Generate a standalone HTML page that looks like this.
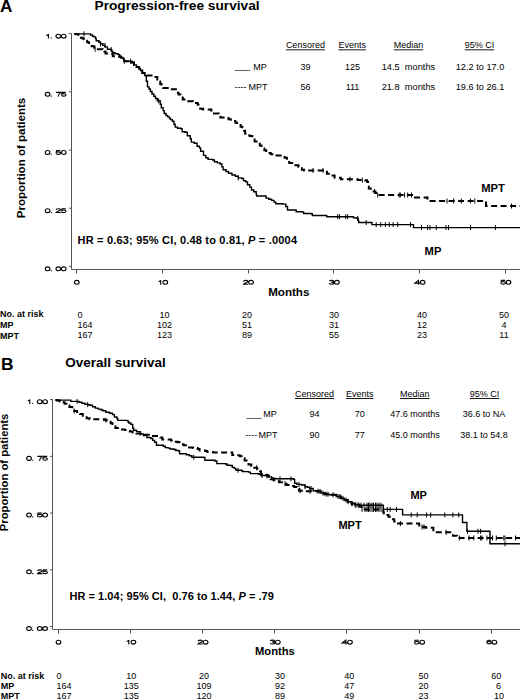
<!DOCTYPE html>
<html><head><meta charset="utf-8"><title>KM curves</title>
<style>html,body{margin:0;padding:0;background:#fff;width:520px;height:699px;overflow:hidden}
text{font-family:"Liberation Sans", sans-serif}</style></head>
<body>
<svg width="520" height="699" viewBox="0 0 520 699" style="display:block">
<rect width="520" height="699" fill="#fff"/>
<g font-family='"Liberation Sans", sans-serif' fill="#000">
<text x="0" y="12.3" font-size="17.2" font-weight="bold" text-anchor="start"  style="">A</text>
<text x="94.5" y="9.9" font-size="13.7" font-weight="bold" text-anchor="start"  style="">Progression-free survival</text>
<path d="M71.5 33.5 V269.5 H520" stroke="#555" stroke-width="1" fill="none"/>
<path d="M68.8 33.70 H71.5 M68.8 91.88 H71.5 M68.8 150.05 H71.5 M68.8 208.22 H71.5 M68.8 266.40 H71.5 " stroke="#555" stroke-width="1" fill="none"/>
<path d="M76.5 269.5 V273.5 M162.5 269.5 V273.5 M248.5 269.5 V273.5 M333.5 269.5 V273.5 M419.5 269.5 V273.5 M505.5 269.5 V273.5 " stroke="#555" stroke-width="1" fill="none"/>
<text x="268.2" y="295.8" font-size="11.6" font-weight="bold" text-anchor="start"  style="">Months</text>
<text transform="translate(25.2,218.3) rotate(-90)" font-size="11.55" font-weight="bold">Proportion of patients</text>
<text x="305.4" y="48.4" font-size="9" font-weight="normal" text-anchor="middle" text-decoration="underline" style="text-decoration:underline">Censored</text>
<text x="352.2" y="48.4" font-size="9" font-weight="normal" text-anchor="middle" text-decoration="underline" style="text-decoration:underline">Events</text>
<text x="408.5" y="48.4" font-size="9" font-weight="normal" text-anchor="middle" text-decoration="underline" style="text-decoration:underline">Median</text>
<text x="479.5" y="48.4" font-size="9" font-weight="normal" text-anchor="middle" text-decoration="underline" style="text-decoration:underline">95% CI</text>
<text x="235" y="68.9" font-size="9" font-weight="normal" text-anchor="start"  style="">___</text>
<text x="253.2" y="69.6" font-size="9" font-weight="normal" text-anchor="start"  style="">MP</text>
<text x="234.5" y="90.4" font-size="9" font-weight="normal" text-anchor="start"  style="">----</text>
<text x="248.6" y="90.4" font-size="9" font-weight="normal" text-anchor="start"  style="">MPT</text>
<text x="305.4" y="69.6" font-size="9" font-weight="normal" text-anchor="middle"  style="">39</text>
<text x="305.4" y="90.4" font-size="9" font-weight="normal" text-anchor="middle"  style="">56</text>
<text x="352.5" y="69.6" font-size="9" font-weight="normal" text-anchor="middle"  style="">125</text>
<text x="352.5" y="90.4" font-size="9" font-weight="normal" text-anchor="middle"  style="">111</text>
<text x="381.7" y="69.6" font-size="9.25" font-weight="normal" text-anchor="start"  style="">14.5&#160;&#160;months</text>
<text x="381.7" y="90.4" font-size="9.25" font-weight="normal" text-anchor="start"  style="">21.8&#160;&#160;months</text>
<text x="480" y="69.6" font-size="9.2" font-weight="normal" text-anchor="middle"  style="">12.2 to 17.0</text>
<text x="480" y="90.4" font-size="9.2" font-weight="normal" text-anchor="middle"  style="">19.6 to 26.1</text>
<text x="77.5" y="243.9" font-size="11" font-weight="bold" text-anchor="start" textLength="219.5" lengthAdjust="spacing" style="">HR = 0.63; 95% CI, 0.48 to 0.81, <tspan font-style="italic">P</tspan> = .0004</text>
<text x="481.2" y="192.2" font-size="11.2" font-weight="bold" text-anchor="start"  style="">MPT</text>
<text x="424.6" y="255" font-size="11.2" font-weight="bold" text-anchor="start"  style="">MP</text>
<text x="0" y="317.3" font-size="9" font-weight="bold" text-anchor="start"  style="">No. at risk</text>
<text x="0" y="327.9" font-size="9" font-weight="bold" text-anchor="start"  style="">MP</text>
<text x="0" y="338.5" font-size="9" font-weight="bold" text-anchor="start"  style="">MPT</text>
<text x="77.5" y="317.5" font-size="9" font-weight="normal" text-anchor="start"  style="">0</text>
<text x="164.5" y="317.5" font-size="9" font-weight="normal" text-anchor="middle"  style="">10</text>
<text x="247" y="317.5" font-size="9" font-weight="normal" text-anchor="middle"  style="">20</text>
<text x="334" y="317.5" font-size="9" font-weight="normal" text-anchor="middle"  style="">30</text>
<text x="422" y="317.5" font-size="9" font-weight="normal" text-anchor="middle"  style="">40</text>
<text x="504" y="317.5" font-size="9" font-weight="normal" text-anchor="middle"  style="">50</text>
<text x="77.5" y="327.9" font-size="9" font-weight="normal" text-anchor="start"  style="">164</text>
<text x="164.5" y="327.9" font-size="9" font-weight="normal" text-anchor="middle"  style="">102</text>
<text x="247" y="327.9" font-size="9" font-weight="normal" text-anchor="middle"  style="">51</text>
<text x="334" y="327.9" font-size="9" font-weight="normal" text-anchor="middle"  style="">31</text>
<text x="422" y="327.9" font-size="9" font-weight="normal" text-anchor="middle"  style="">12</text>
<text x="504" y="327.9" font-size="9" font-weight="normal" text-anchor="middle"  style="">4</text>
<text x="77.5" y="338.3" font-size="9" font-weight="normal" text-anchor="start"  style="">167</text>
<text x="164.5" y="338.3" font-size="9" font-weight="normal" text-anchor="middle"  style="">123</text>
<text x="247" y="338.3" font-size="9" font-weight="normal" text-anchor="middle"  style="">89</text>
<text x="334" y="338.3" font-size="9" font-weight="normal" text-anchor="middle"  style="">55</text>
<text x="422" y="338.3" font-size="9" font-weight="normal" text-anchor="middle"  style="">23</text>
<text x="504" y="338.3" font-size="9" font-weight="normal" text-anchor="middle"  style="">11</text>
<path d="M74.2 33.9 L89.4 33.9 L90.5 33.9 L90.5 35.0 L92.5 35.0 L92.5 36.2 L94.0 36.2 L94.0 36.9 L95.5 36.9 L95.5 38.5 L96.2 38.5 L96.2 40.8 L98.9 40.8 L98.9 42.3 L100.5 42.3 L100.5 43.8 L102.8 43.8 L102.8 45.4 L105.1 45.4 L105.1 46.9 L107.4 46.9 L107.4 49.2 L110.5 49.2 L110.5 49.6 L111.6 49.6 L111.6 51.2 L112.8 51.2 L112.8 52.7 L115.1 52.7 L115.1 53.8 L118.2 53.8 L118.2 54.6 L119.7 54.6 L119.7 56.2 L121.2 56.2 L121.2 57.7 L123.5 57.7 L123.5 59.2 L124.3 59.2 L124.3 61.2 L131.0 61.2 L132.0 61.2 L132.0 62.5 L134.0 62.5 L134.0 64.9 L136.5 64.9 L136.5 67.0 L139.2 67.0 L139.2 68.8 L140.5 68.8 L140.5 70.5 L142.3 70.5 L142.3 73.1 L144.6 73.1 L144.6 75.5 L146.3 75.5 L146.3 81.2 L147.5 81.2 L147.5 86.9 L149.0 86.9 L149.0 89.0 L150.4 89.0 L150.4 91.5 L152.0 91.5 L152.0 94.0 L153.8 94.0 L153.8 96.2 L155.5 96.2 L155.5 98.5 L157.3 98.5 L157.3 100.8 L160.2 100.8 L160.2 104.2 L161.3 104.2 L161.3 107.7 L163.1 107.7 L163.1 110.6 L164.2 110.6 L164.2 113.5 L166.0 113.5 L166.0 115.5 L167.7 115.5 L167.7 116.9 L169.5 116.9 L169.5 118.5 L170.5 118.5 L170.5 119.6 L172.3 119.6 L172.3 121.3 L174.0 121.3 L174.0 124.2 L175.2 124.2 L175.2 127.1 L177.5 127.1 L177.5 128.3 L181.0 128.3 L181.0 128.8 L182.1 128.8 L182.1 131.7 L185.0 131.7 L185.0 132.3 L187.3 132.3 L187.3 135.8 L190.2 135.8 L190.2 138.7 L191.3 138.7 L191.3 142.1 L194.2 142.1 L194.2 143.3 L197.1 143.3 L197.1 146.2 L199.4 146.2 L199.4 147.9 L200.6 147.9 L200.6 151.3 L203.5 151.3 L203.5 155.4 L205.8 155.4 L205.8 157.7 L208.1 157.7 L208.1 159.4 L212.7 159.4 L212.7 160.0 L214.4 160.0 L214.4 161.7 L217.3 161.7 L217.3 162.9 L220.2 162.9 L220.2 164.0 L221.9 164.0 L221.9 166.9 L223.1 166.9 L223.1 169.8 L226.0 169.8 L226.0 171.5 L228.5 171.5 L228.5 173.3 L231.9 173.3 L231.9 175.0 L235.4 175.0 L235.4 176.2 L238.3 176.2 L238.3 177.9 L241.7 177.9 L241.7 178.5 L243.5 178.5 L243.5 180.8 L245.8 180.8 L245.8 181.9 L247.5 181.9 L247.5 184.8 L249.8 184.8 L249.8 187.1 L251.5 187.1 L251.5 190.0 L253.8 190.0 L253.8 191.7 L256.2 191.7 L256.2 194.6 L256.7 194.6 L256.7 196.0 L264.8 196.0 L266.0 196.0 L266.0 198.1 L268.8 198.1 L268.8 199.2 L271.7 199.2 L271.7 200.4 L274.0 200.4 L274.0 202.1 L275.8 202.1 L275.8 203.8 L282.7 203.8 L282.7 204.1 L285.8 204.1 L285.8 206.5 L287.5 206.5 L287.5 210.0 L295.6 210.0 L296.2 210.0 L296.2 211.7 L302.5 211.7 L302.5 212.1 L303.7 212.1 L303.7 213.5 L311.2 213.5 L311.2 213.7 L312.3 213.7 L312.3 215.5 L325.6 215.5 L326.7 215.5 L326.7 216.7 L352.3 216.7 L353.5 216.7 L353.5 217.9 L356.3 217.9 L356.3 218.3 L358.1 218.3 L358.1 220.6 L358.7 220.6 L358.7 222.5 L371.5 222.5 L371.9 222.5 L371.9 224.6 L413.1 224.6 L413.5 224.6 L413.5 227.6 L520.0 227.6" stroke="#000" stroke-width="1.4" fill="none"/>
<path d="M74.2 33.9 L76.3 33.9 L76.3 34.3 L78.6 34.3 L78.6 35.0 L80.2 35.0 L80.2 35.8 L80.9 35.8 L80.9 37.7 L82.5 37.7 L82.5 38.5 L84.0 38.5 L84.0 39.2 L85.5 39.2 L85.5 40.8 L87.1 40.8 L87.1 41.9 L88.6 41.9 L88.6 43.1 L90.2 43.1 L90.2 43.8 L91.7 43.8 L91.7 46.2 L92.0 46.2 L94.3 46.2 L94.3 47.7 L95.1 47.7 L95.1 49.2 L98.9 49.2 L102.8 49.2 L102.8 50.0 L104.3 50.0 L104.3 51.5 L105.5 51.5 L105.5 53.5 L112.0 53.5 L112.0 53.8 L112.8 53.8 L112.8 56.2 L117.4 56.2 L117.4 56.5 L119.7 56.5 L119.7 57.0 L121.2 57.0 L121.2 57.7 L123.5 57.7 L123.5 59.2 L124.3 59.2 L124.3 61.2 L131.0 61.2 L132.0 61.2 L132.0 62.5 L134.0 62.5 L134.0 64.9 L136.5 64.9 L136.5 67.0 L139.2 67.0 L139.2 68.8 L140.5 68.8 L140.5 70.5 L142.3 70.5 L142.3 73.1 L144.6 73.1 L144.6 75.4 L148.1 75.4 L151.5 75.4 L151.5 77.1 L157.3 77.1 L157.3 79.4 L158.5 79.4 L158.5 81.5 L160.2 81.5 L160.2 84.0 L161.5 84.0 L161.5 86.0 L163.1 86.0 L163.1 88.1 L167.7 88.1 L167.7 89.2 L175.0 89.2 L176.9 89.2 L176.9 92.7 L178.5 92.7 L178.5 94.5 L180.4 94.5 L180.4 96.2 L182.7 96.2 L182.7 99.6 L187.3 99.6 L187.3 101.3 L193.1 101.3 L193.1 103.1 L197.7 103.1 L197.7 104.8 L198.5 104.8 L198.5 106.0 L200.2 106.0 L200.2 108.8 L203.1 108.8 L203.1 109.4 L207.7 109.4 L211.2 109.4 L211.2 110.6 L214.0 110.6 L214.0 113.5 L218.7 113.5 L218.7 114.0 L220.4 114.0 L220.4 117.5 L225.0 117.5 L225.0 118.1 L228.5 118.1 L228.5 119.2 L230.8 119.2 L230.8 121.0 L235.4 121.0 L235.4 122.7 L237.1 122.7 L237.1 125.0 L240.6 125.0 L240.6 126.7 L242.3 126.7 L242.3 129.0 L244.0 129.0 L244.0 130.8 L245.2 130.8 L245.2 133.7 L248.1 133.7 L248.1 135.4 L250.0 135.4 L250.0 136.0 L252.3 136.0 L252.3 138.1 L254.6 138.1 L254.6 141.5 L258.7 141.5 L258.7 143.8 L259.8 143.8 L259.8 145.6 L261.5 145.6 L261.5 148.5 L264.4 148.5 L264.4 150.2 L266.2 150.2 L266.2 153.1 L270.8 153.1 L270.8 154.2 L276.5 154.2 L276.5 155.4 L281.7 155.4 L284.6 155.4 L284.6 157.7 L286.9 157.7 L286.9 160.0 L289.2 160.0 L289.2 162.9 L293.8 162.9 L293.8 165.2 L298.5 165.2 L298.5 166.9 L301.9 166.9 L301.9 169.8 L304.2 169.8 L304.2 170.4 L323.8 170.4 L326.9 170.4 L326.9 173.8 L330.0 173.8 L330.0 175.5 L334.6 175.5 L334.6 177.7 L340.8 177.7 L340.8 179.2 L357.7 179.2 L357.7 180.0 L365.0 180.0 L365.0 180.2 L367.0 180.2 L367.0 181.8 L368.0 181.8 L368.0 185.0 L368.8 185.0 L368.8 188.5 L370.8 188.5 L370.8 191.5 L375.4 191.5 L375.4 193.0 L376.0 193.0 L376.0 195.0 L413.8 195.0 L415.0 195.0 L415.0 197.5 L426.8 197.5 L427.5 197.5 L427.5 201.0 L485.0 201.0 L486.0 201.0 L486.0 206.0 L520.0 206.0" stroke="#000" stroke-width="2" fill="none" stroke-dasharray="6 3.5"/>
<path d="M84.0 31.4 V36.4 M100.5 41.3 V46.3 M105.0 42.9 V47.9 M111.2 47.1 V52.1 M124.3 58.7 V63.7 M158.6 98.3 V103.3 M238.3 175.4 V180.4 M337.7 214.2 V219.2 M339.5 214.2 V219.2 M345.7 214.2 V219.2 M347.7 214.2 V219.2 M357.7 215.8 V220.8 M366.2 220.0 V225.0 M376.2 222.1 V227.1 M380.8 222.1 V227.1 M385.4 222.1 V227.1 M389.2 222.1 V227.1 M393.1 222.1 V227.1 M397.7 222.1 V227.1 M410.5 222.1 V227.1 M421.5 225.1 V230.1 M427.7 225.1 V230.1 M430.0 225.1 V230.1 M436.3 225.1 V230.1 M446.0 225.1 V230.1 M448.5 225.1 V230.1 M470.6 225.1 V230.1 M495.4 225.1 V230.1 M95.1 46.7 V51.7 M130.5 58.7 V63.7 M313.0 167.9 V172.9 M323.0 167.9 V172.9 M350.0 176.7 V181.7 M362.3 177.5 V182.5 M374.6 189.0 V194.0 M377.7 192.5 V197.5 M399.2 192.5 V197.5 M400.3 192.5 V197.5 M404.6 192.5 V197.5 M407.7 192.5 V197.5 M411.5 192.5 V197.5 M447.0 198.5 V203.5 M453.7 198.5 V203.5 M461.3 198.5 V203.5 M470.4 198.5 V203.5 M474.8 198.5 V203.5 M511.5 203.5 V208.5 " stroke="#000" stroke-width="1" fill="none"/>
<text x="0.9" y="369.6" font-size="17.4" font-weight="bold" text-anchor="start"  style="">B</text>
<text x="65.2" y="366.5" font-size="13.5" font-weight="bold" text-anchor="start"  style="">Overall survival</text>
<path d="M52.5 399 V629.5 H520" stroke="#555" stroke-width="1" fill="none"/>
<path d="M50 399.60 H52.5 M50 456.33 H52.5 M50 513.05 H52.5 M50 569.77 H52.5 M50 626.50 H52.5 " stroke="#555" stroke-width="1" fill="none"/>
<path d="M58.5 629.5 V633.5 M130.5 629.5 V633.5 M202.5 629.5 V633.5 M274.5 629.5 V633.5 M346.5 629.5 V633.5 M419.5 629.5 V633.5 M491.5 629.5 V633.5 " stroke="#555" stroke-width="1" fill="none"/>
<text x="255.0" y="654.9" font-size="11.2" font-weight="bold" text-anchor="start"  style="">Months</text>
<text transform="translate(8.4,531.2) rotate(-90)" font-size="11.25" font-weight="bold">Proportion of patients</text>
<text x="314.5" y="397.1" font-size="9" font-weight="normal" text-anchor="middle"  style="text-decoration:underline">Censored</text>
<text x="359.8" y="397.1" font-size="9" font-weight="normal" text-anchor="middle"  style="text-decoration:underline">Events</text>
<text x="414.8" y="397.1" font-size="9" font-weight="normal" text-anchor="middle"  style="text-decoration:underline">Median</text>
<text x="484.5" y="397.1" font-size="9" font-weight="normal" text-anchor="middle"  style="text-decoration:underline">95% CI</text>
<text x="246.5" y="416.8" font-size="9" font-weight="normal" text-anchor="start"  style="">___</text>
<text x="263.2" y="416.8" font-size="9" font-weight="normal" text-anchor="start"  style="">MP</text>
<text x="245.3" y="437.5" font-size="9" font-weight="normal" text-anchor="start"  style="">----</text>
<text x="258.4" y="437.5" font-size="9" font-weight="normal" text-anchor="start"  style="">MPT</text>
<text x="314.5" y="416.8" font-size="9" font-weight="normal" text-anchor="middle"  style="">94</text>
<text x="314.5" y="437.5" font-size="9" font-weight="normal" text-anchor="middle"  style="">90</text>
<text x="359.8" y="416.8" font-size="9" font-weight="normal" text-anchor="middle"  style="">70</text>
<text x="359.8" y="437.5" font-size="9" font-weight="normal" text-anchor="middle"  style="">77</text>
<text x="390.3" y="416.8" font-size="9" font-weight="normal" text-anchor="start"  style="">47.6 months</text>
<text x="390.3" y="437.5" font-size="9" font-weight="normal" text-anchor="start"  style="">45.0 months</text>
<text x="484" y="416.8" font-size="9" font-weight="normal" text-anchor="middle"  style="">36.6 to NA</text>
<text x="484" y="437.5" font-size="9" font-weight="normal" text-anchor="middle"  style="">38.1 to 54.8</text>
<text x="69.4" y="600.4" font-size="11" font-weight="bold" text-anchor="start" textLength="204.5" lengthAdjust="spacing" style="">HR = 1.04; 95% CI,&#160; 0.76 to 1.44, <tspan font-style="italic">P</tspan> = .79</text>
<text x="410.4" y="498.6" font-size="11" font-weight="bold" text-anchor="start"  style="">MP</text>
<text x="338.4" y="529.1" font-size="11" font-weight="bold" text-anchor="start"  style="">MPT</text>
<text x="0.8" y="678.6" font-size="9" font-weight="bold" text-anchor="start"  style="">No. at risk</text>
<text x="0.8" y="688.8" font-size="9" font-weight="bold" text-anchor="start"  style="">MP</text>
<text x="0.8" y="699.1" font-size="9" font-weight="bold" text-anchor="start"  style="">MPT</text>
<text x="56.6" y="678.6" font-size="9" font-weight="normal" text-anchor="start"  style="">0</text>
<text x="131.3" y="678.6" font-size="9" font-weight="normal" text-anchor="middle"  style="">10</text>
<text x="204" y="678.6" font-size="9" font-weight="normal" text-anchor="middle"  style="">20</text>
<text x="280.1" y="678.6" font-size="9" font-weight="normal" text-anchor="middle"  style="">30</text>
<text x="349.2" y="678.6" font-size="9" font-weight="normal" text-anchor="middle"  style="">40</text>
<text x="423.5" y="678.6" font-size="9" font-weight="normal" text-anchor="middle"  style="">50</text>
<text x="496.2" y="678.6" font-size="9" font-weight="normal" text-anchor="middle"  style="">60</text>
<text x="56.6" y="688.6" font-size="9" font-weight="normal" text-anchor="start"  style="">164</text>
<text x="131.3" y="688.6" font-size="9" font-weight="normal" text-anchor="middle"  style="">135</text>
<text x="204" y="688.6" font-size="9" font-weight="normal" text-anchor="middle"  style="">109</text>
<text x="280.1" y="688.6" font-size="9" font-weight="normal" text-anchor="middle"  style="">92</text>
<text x="349.2" y="688.6" font-size="9" font-weight="normal" text-anchor="middle"  style="">47</text>
<text x="423.5" y="688.6" font-size="9" font-weight="normal" text-anchor="middle"  style="">20</text>
<text x="498.5" y="688.6" font-size="9" font-weight="normal" text-anchor="middle"  style="">6</text>
<text x="56.6" y="698.7" font-size="9" font-weight="normal" text-anchor="start"  style="">167</text>
<text x="131.3" y="698.7" font-size="9" font-weight="normal" text-anchor="middle"  style="">135</text>
<text x="204" y="698.7" font-size="9" font-weight="normal" text-anchor="middle"  style="">120</text>
<text x="280.1" y="698.7" font-size="9" font-weight="normal" text-anchor="middle"  style="">89</text>
<text x="349.2" y="698.7" font-size="9" font-weight="normal" text-anchor="middle"  style="">49</text>
<text x="423.5" y="698.7" font-size="9" font-weight="normal" text-anchor="middle"  style="">23</text>
<text x="498.9" y="698.7" font-size="9" font-weight="normal" text-anchor="middle"  style="">10</text>
<path d="M55.4 400.1 L69.4 400.1 L70.8 400.1 L70.8 401.4 L77.1 401.4 L79.0 401.4 L79.0 402.3 L81.9 402.3 L81.9 403.3 L84.8 403.3 L84.8 404.3 L87.7 404.3 L87.7 404.7 L89.6 404.7 L89.6 405.2 L92.5 405.2 L92.5 406.7 L95.3 406.7 L95.3 408.1 L98.2 408.1 L98.2 409.1 L101.1 409.1 L101.1 410.0 L102.9 410.0 L102.9 410.8 L105.8 410.8 L105.8 412.2 L109.6 412.2 L109.6 413.2 L112.5 413.2 L112.5 414.6 L114.4 414.6 L114.4 417.0 L116.8 417.0 L116.8 418.5 L117.8 418.5 L117.8 420.4 L126.0 420.4 L127.9 420.4 L127.9 421.8 L128.8 421.8 L128.8 423.0 L130.8 423.0 L130.8 424.4 L132.7 424.4 L132.7 428.3 L133.7 428.3 L133.7 430.2 L136.5 430.2 L136.5 431.6 L140.4 431.6 L140.4 434.0 L143.3 434.0 L143.3 435.5 L145.0 435.5 L145.0 435.6 L146.9 435.6 L146.9 437.5 L150.8 437.5 L150.8 438.5 L152.7 438.5 L152.7 440.4 L154.6 440.4 L154.6 442.3 L156.5 442.3 L156.5 445.2 L163.3 445.2 L163.3 446.2 L165.2 446.2 L165.2 447.6 L168.1 447.6 L168.1 448.1 L170.0 448.1 L170.0 449.0 L173.8 449.0 L173.8 449.5 L175.8 449.5 L175.8 450.5 L178.7 450.5 L178.7 451.0 L179.6 451.0 L179.6 453.8 L186.3 453.8 L186.3 454.8 L189.2 454.8 L189.2 455.8 L191.9 455.8 L191.9 457.3 L203.5 457.3 L203.5 457.5 L204.9 457.5 L204.9 460.2 L215.0 460.2 L215.0 461.0 L216.9 461.0 L216.9 463.6 L225.6 463.6 L225.6 464.0 L227.0 464.0 L227.0 465.2 L230.4 465.2 L230.4 465.5 L232.3 465.5 L232.3 467.4 L234.2 467.4 L234.2 468.4 L235.7 468.4 L235.7 469.8 L236.9 469.8 L236.9 470.2 L241.7 470.2 L241.7 470.7 L242.7 470.7 L242.7 471.6 L248.5 471.6 L248.5 472.1 L250.4 472.1 L250.4 473.6 L258.1 473.6 L258.1 474.0 L260.0 474.0 L260.0 474.5 L261.0 474.5 L261.0 475.5 L266.7 475.5 L266.7 476.0 L268.7 476.0 L268.7 476.9 L271.5 476.9 L271.5 477.9 L273.5 477.9 L273.5 478.4 L275.4 478.4 L275.4 478.8 L293.5 478.8 L293.5 479.2 L294.6 479.2 L294.6 483.3 L296.9 483.3 L296.9 484.4 L301.5 484.4 L301.5 485.0 L305.0 485.0 L305.0 486.7 L307.3 486.7 L307.3 487.3 L309.6 487.3 L309.6 488.5 L313.1 488.5 L313.1 490.8 L317.7 490.8 L317.7 491.3 L321.2 491.3 L321.2 493.1 L324.6 493.1 L324.6 494.2 L329.2 494.2 L329.2 494.8 L332.7 494.8 L336.2 494.8 L336.2 496.5 L340.8 496.5 L340.8 498.3 L344.2 498.3 L344.2 500.0 L347.7 500.0 L347.7 501.7 L351.5 501.7 L351.5 503.6 L355.0 503.6 L355.0 504.8 L359.6 504.8 L359.6 505.2 L382.0 505.2 L383.3 505.2 L383.3 509.4 L402.4 509.4 L402.6 509.4 L402.6 514.9 L462.3 514.9 L462.5 514.9 L462.5 522.5 L466.6 522.5 L466.9 522.5 L466.9 531.3 L489.6 531.3 L490.0 531.3 L490.0 543.8 L520.0 543.8" stroke="#000" stroke-width="1.4" fill="none"/>
<path d="M55.4 400.1 L56.9 400.1 L56.9 400.4 L59.8 400.4 L59.8 401.4 L62.7 401.4 L62.7 402.3 L64.6 402.3 L64.6 403.8 L66.5 403.8 L66.5 405.2 L69.4 405.2 L69.4 407.1 L72.3 407.1 L72.3 409.1 L74.2 409.1 L74.2 411.0 L77.1 411.0 L77.1 411.9 L80.0 411.9 L80.0 413.9 L82.8 413.9 L82.8 415.8 L86.7 415.8 L86.7 418.2 L89.6 418.2 L89.6 419.2 L100.2 419.2 L104.0 419.2 L104.0 420.1 L106.7 420.1 L106.7 420.4 L108.7 420.4 L108.7 421.8 L110.6 421.8 L110.6 423.3 L112.5 423.3 L112.5 426.2 L115.4 426.2 L115.4 428.1 L120.2 428.1 L120.2 429.5 L125.0 429.5 L125.0 430.0 L127.9 430.0 L127.9 431.0 L129.8 431.0 L129.8 431.6 L132.7 431.6 L132.7 432.6 L136.5 432.6 L136.5 433.6 L140.4 433.6 L140.4 434.5 L143.3 434.5 L143.3 435.0 L145.0 435.0 L145.0 434.8 L151.7 434.8 L151.7 436.1 L158.5 436.1 L160.4 436.1 L160.4 437.5 L162.3 437.5 L162.3 439.4 L168.1 439.4 L171.0 439.4 L171.0 440.4 L173.8 440.4 L173.8 441.8 L177.7 441.8 L177.7 442.3 L179.6 442.3 L179.6 444.2 L183.5 444.2 L183.5 445.2 L187.3 445.2 L187.3 447.6 L193.1 447.6 L193.1 448.1 L197.7 448.1 L197.7 449.1 L199.6 449.1 L199.6 450.6 L205.4 450.6 L205.4 451.1 L207.3 451.1 L207.3 452.0 L213.1 452.0 L213.1 452.5 L230.4 452.5 L232.3 452.5 L232.3 454.9 L236.9 454.9 L236.9 455.3 L239.8 455.3 L239.8 456.3 L241.7 456.3 L241.7 458.2 L244.6 458.2 L244.6 460.6 L246.5 460.6 L246.5 462.5 L248.5 462.5 L248.5 464.4 L251.3 464.4 L251.3 465.9 L254.2 465.9 L254.2 467.8 L257.1 467.8 L257.1 468.8 L260.0 468.8 L260.0 471.2 L261.0 471.2 L261.0 474.0 L263.8 474.0 L263.8 475.0 L267.7 475.0 L267.7 475.5 L268.7 475.5 L268.7 477.9 L270.6 477.9 L270.6 479.3 L273.5 479.3 L273.5 480.3 L276.3 480.3 L276.3 481.3 L279.2 481.3 L279.2 482.2 L283.1 482.2 L283.1 483.7 L286.5 483.7 L286.5 485.0 L290.4 485.0 L290.4 486.0 L294.2 486.0 L294.2 486.9 L297.1 486.9 L297.1 488.8 L299.0 488.8 L299.0 490.8 L303.8 490.8 L303.8 491.3 L317.7 491.3 L317.7 491.5 L321.2 491.5 L321.2 493.1 L324.6 493.1 L324.6 494.2 L329.2 494.2 L329.2 494.8 L332.7 494.8 L336.2 494.8 L336.2 496.5 L340.8 496.5 L340.8 498.3 L344.2 498.3 L344.2 500.0 L347.7 500.0 L347.7 501.7 L351.5 501.7 L351.5 503.6 L355.0 503.6 L355.0 505.3 L359.6 505.3 L359.6 506.5 L361.5 506.5 L361.5 509.4 L381.5 509.4 L381.5 509.6 L383.3 509.6 L383.3 512.2 L383.8 512.2 L383.8 515.1 L388.5 515.1 L388.5 516.8 L390.8 516.8 L390.8 519.2 L394.2 519.2 L394.2 521.5 L396.5 521.5 L396.5 523.6 L417.2 523.6 L419.2 523.6 L419.2 526.9 L426.0 526.9 L426.0 527.8 L432.5 527.8 L433.4 527.8 L433.4 532.3 L451.5 532.3 L451.5 532.8 L452.9 532.8 L452.9 535.7 L456.9 535.7 L456.9 538.0 L520.0 538.0" stroke="#000" stroke-width="2" fill="none" stroke-dasharray="6 3.5"/>
<path d="M77.1 398.9 V403.9 M87.7 402.2 V407.2 M193.8 454.8 V459.8 M238.0 467.7 V472.7 M262.0 473.0 V478.0 M267.0 473.5 V478.5 M280.0 476.3 V481.3 M291.0 476.3 V481.3 M299.0 481.9 V486.9 M305.0 484.2 V489.2 M311.0 486.0 V491.0 M318.0 488.8 V493.8 M323.0 490.6 V495.6 M328.0 491.7 V496.7 M333.0 492.3 V497.3 M338.0 494.0 V499.0 M343.0 495.8 V500.8 M348.0 499.2 V504.2 M352.0 501.1 V506.1 M355.0 502.3 V507.3 M358.0 502.3 V507.3 M361.0 502.7 V507.7 M364.0 502.7 V507.7 M367.0 502.7 V507.7 M368.5 502.7 V507.7 M370.0 502.7 V507.7 M372.0 502.7 V507.7 M373.5 502.7 V507.7 M375.5 502.7 V507.7 M377.0 502.7 V507.7 M379.0 502.7 V507.7 M381.0 502.7 V507.7 M387.3 506.9 V511.9 M390.2 506.9 V511.9 M396.5 506.9 V511.9 M411.2 512.4 V517.4 M417.2 512.4 V517.4 M426.6 512.4 V517.4 M430.7 512.4 V517.4 M444.8 512.4 V517.4 M452.9 512.4 V517.4 M458.8 512.4 V517.4 M467.5 528.8 V533.8 M478.0 528.8 V533.8 M480.6 528.8 V533.8 M505.0 541.3 V546.3 M74.2 408.5 V413.5 M105.8 417.6 V422.6 M256.6 465.3 V470.3 M285.0 481.2 V486.2 M300.0 488.3 V493.3 M310.0 488.8 V493.8 M320.0 489.0 V494.0 M326.0 491.7 V496.7 M340.0 494.0 V499.0 M346.0 497.5 V502.5 M352.0 501.1 V506.1 M356.0 502.8 V507.8 M359.0 502.8 V507.8 M362.0 506.9 V511.9 M365.0 506.9 V511.9 M367.0 506.9 V511.9 M368.5 506.9 V511.9 M370.0 506.9 V511.9 M372.0 506.9 V511.9 M373.5 506.9 V511.9 M375.5 506.9 V511.9 M377.0 506.9 V511.9 M379.0 506.9 V511.9 M381.0 506.9 V511.9 M400.4 521.1 V526.1 M422.0 524.4 V529.4 M424.0 524.4 V529.4 M446.1 529.8 V534.8 M459.4 535.5 V540.5 M469.0 535.5 V540.5 M473.8 535.5 V540.5 M480.6 535.5 V540.5 M481.9 535.5 V540.5 M486.9 535.5 V540.5 M492.5 535.5 V540.5 M496.3 535.5 V540.5 M503.8 535.5 V540.5 M505.0 535.5 V540.5 M515.5 535.5 V540.5 " stroke="#000" stroke-width="1" fill="none"/>
<path d="M48.40 34.10 V38.50 M48.40 34.30 L46.40 35.60 M55.95 36.15 a2.35 1.95 0 1 0 4.7 0 a2.35 1.95 0 1 0 -4.7 0 M61.35 36.15 a2.35 1.95 0 1 0 4.7 0 a2.35 1.95 0 1 0 -4.7 0 M45.25 94.33 a2.35 1.95 0 1 0 4.7 0 a2.35 1.95 0 1 0 -4.7 0 M56.00 92.38 H60.70 C59.30 93.67 58.30 95.08 57.90 96.67 M65.80 92.38 H62.00 L61.70 94.17 C62.70 93.47 66.00 93.38 66.00 94.97 C66.00 96.47 61.80 96.47 61.40 95.38 M45.25 152.50 a2.35 1.95 0 1 0 4.7 0 a2.35 1.95 0 1 0 -4.7 0 M60.40 150.55 H56.60 L56.30 152.35 C57.30 151.65 60.60 151.55 60.60 153.15 C60.60 154.65 56.40 154.65 56.00 153.55 M61.35 152.50 a2.35 1.95 0 1 0 4.7 0 a2.35 1.95 0 1 0 -4.7 0 M45.25 210.67 a2.35 1.95 0 1 0 4.7 0 a2.35 1.95 0 1 0 -4.7 0 M56.10 209.92 C56.20 208.32 60.50 208.32 60.50 209.72 C60.50 210.82 56.70 211.12 56.10 212.52 H60.80 M65.80 208.72 H62.00 L61.70 210.52 C62.70 209.82 66.00 209.72 66.00 211.32 C66.00 212.82 61.80 212.82 61.40 211.72 M45.25 268.85 a2.35 1.95 0 1 0 4.7 0 a2.35 1.95 0 1 0 -4.7 0 M55.95 268.85 a2.35 1.95 0 1 0 4.7 0 a2.35 1.95 0 1 0 -4.7 0 M61.35 268.85 a2.35 1.95 0 1 0 4.7 0 a2.35 1.95 0 1 0 -4.7 0 M74.45 282.35 a2.35 1.95 0 1 0 4.7 0 a2.35 1.95 0 1 0 -4.7 0 M160.70 280.30 V284.70 M160.70 280.50 L158.70 281.80 M162.95 282.35 a2.35 1.95 0 1 0 4.7 0 a2.35 1.95 0 1 0 -4.7 0 M243.50 281.60 C243.60 280.00 247.90 280.00 247.90 281.40 C247.90 282.50 244.10 282.80 243.50 284.20 H248.20 M248.75 282.35 a2.35 1.95 0 1 0 4.7 0 a2.35 1.95 0 1 0 -4.7 0 M329.40 281.20 C329.70 280.10 333.60 280.10 333.60 281.20 C333.60 282.10 332.10 282.20 331.10 282.20 C332.30 282.20 333.80 282.30 333.80 283.20 C333.80 284.50 329.60 284.50 329.20 283.30 M334.55 282.35 a2.35 1.95 0 1 0 4.7 0 a2.35 1.95 0 1 0 -4.7 0 M418.50 284.70 V280.40 L414.90 283.10 H420.00 M420.35 282.35 a2.35 1.95 0 1 0 4.7 0 a2.35 1.95 0 1 0 -4.7 0 M505.20 280.40 H501.40 L501.10 282.20 C502.10 281.50 505.40 281.40 505.40 283.00 C505.40 284.50 501.20 284.50 500.80 283.40 M506.15 282.35 a2.35 1.95 0 1 0 4.7 0 a2.35 1.95 0 1 0 -4.7 0 M29.80 399.60 V404.00 M29.80 399.80 L27.80 401.10 M37.35 401.65 a2.35 1.95 0 1 0 4.7 0 a2.35 1.95 0 1 0 -4.7 0 M42.75 401.65 a2.35 1.95 0 1 0 4.7 0 a2.35 1.95 0 1 0 -4.7 0 M26.65 458.38 a2.35 1.95 0 1 0 4.7 0 a2.35 1.95 0 1 0 -4.7 0 M37.40 456.43 H42.10 C40.70 457.73 39.70 459.13 39.30 460.73 M47.20 456.43 H43.40 L43.10 458.23 C44.10 457.53 47.40 457.43 47.40 459.03 C47.40 460.53 43.20 460.53 42.80 459.43 M26.65 515.10 a2.35 1.95 0 1 0 4.7 0 a2.35 1.95 0 1 0 -4.7 0 M41.80 513.15 H38.00 L37.70 514.95 C38.70 514.25 42.00 514.15 42.00 515.75 C42.00 517.25 37.80 517.25 37.40 516.15 M42.75 515.10 a2.35 1.95 0 1 0 4.7 0 a2.35 1.95 0 1 0 -4.7 0 M26.65 571.83 a2.35 1.95 0 1 0 4.7 0 a2.35 1.95 0 1 0 -4.7 0 M37.50 571.08 C37.60 569.48 41.90 569.48 41.90 570.88 C41.90 571.98 38.10 572.27 37.50 573.67 H42.20 M47.20 569.88 H43.40 L43.10 571.67 C44.10 570.98 47.40 570.88 47.40 572.48 C47.40 573.98 43.20 573.98 42.80 572.88 M26.65 628.55 a2.35 1.95 0 1 0 4.7 0 a2.35 1.95 0 1 0 -4.7 0 M37.35 628.55 a2.35 1.95 0 1 0 4.7 0 a2.35 1.95 0 1 0 -4.7 0 M42.75 628.55 a2.35 1.95 0 1 0 4.7 0 a2.35 1.95 0 1 0 -4.7 0 M56.15 642.15 a2.35 1.95 0 1 0 4.7 0 a2.35 1.95 0 1 0 -4.7 0 M128.80 640.10 V644.50 M128.80 640.30 L126.80 641.60 M131.05 642.15 a2.35 1.95 0 1 0 4.7 0 a2.35 1.95 0 1 0 -4.7 0 M198.00 641.40 C198.10 639.80 202.40 639.80 202.40 641.20 C202.40 642.30 198.60 642.60 198.00 644.00 H202.70 M203.25 642.15 a2.35 1.95 0 1 0 4.7 0 a2.35 1.95 0 1 0 -4.7 0 M270.30 641.00 C270.60 639.90 274.50 639.90 274.50 641.00 C274.50 641.90 273.00 642.00 272.00 642.00 C273.20 642.00 274.70 642.10 274.70 643.00 C274.70 644.30 270.50 644.30 270.10 643.10 M275.45 642.15 a2.35 1.95 0 1 0 4.7 0 a2.35 1.95 0 1 0 -4.7 0 M345.80 644.50 V640.20 L342.20 642.90 H347.30 M347.65 642.15 a2.35 1.95 0 1 0 4.7 0 a2.35 1.95 0 1 0 -4.7 0 M418.90 640.20 H415.10 L414.80 642.00 C415.80 641.30 419.10 641.20 419.10 642.80 C419.10 644.30 414.90 644.30 414.50 643.20 M419.85 642.15 a2.35 1.95 0 1 0 4.7 0 a2.35 1.95 0 1 0 -4.7 0 M491.10 641.00 C490.70 639.90 486.80 639.80 486.80 642.20 C486.80 644.30 491.30 644.30 491.30 642.70 C491.30 641.20 487.20 641.20 486.90 642.50 M492.05 642.15 a2.35 1.95 0 1 0 4.7 0 a2.35 1.95 0 1 0 -4.7 0 " stroke="#000" stroke-width="1.12" fill="none"/>
<path d="M50.70 37.40 h1.1 v1.1 h-1.1 z M50.70 95.58 h1.1 v1.1 h-1.1 z M50.70 153.75 h1.1 v1.1 h-1.1 z M50.70 211.92 h1.1 v1.1 h-1.1 z M50.70 270.10 h1.1 v1.1 h-1.1 z M32.10 402.90 h1.1 v1.1 h-1.1 z M32.10 459.63 h1.1 v1.1 h-1.1 z M32.10 516.35 h1.1 v1.1 h-1.1 z M32.10 573.07 h1.1 v1.1 h-1.1 z M32.10 629.80 h1.1 v1.1 h-1.1 z " fill="#000"/>
</g></svg>
</body></html>
